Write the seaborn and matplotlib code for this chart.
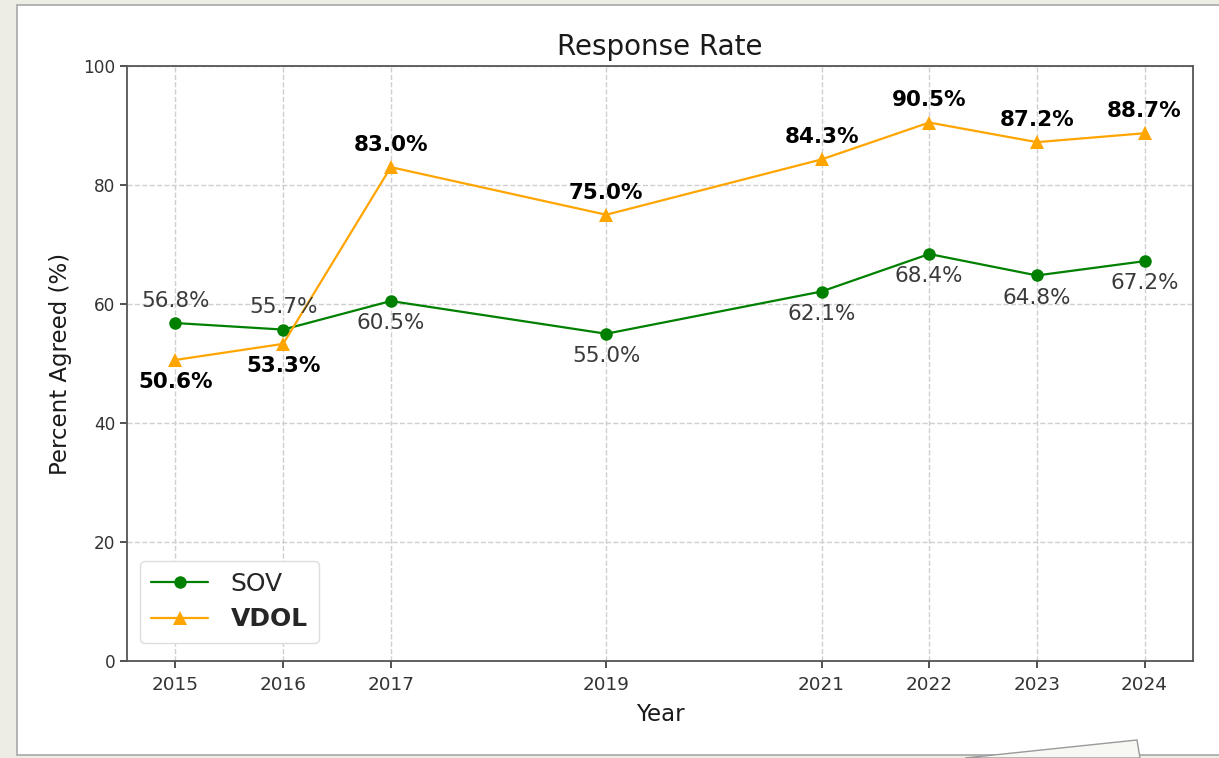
import pandas as pd
import matplotlib.pyplot as plt
import matplotlib.patches as mpatches
import seaborn as sns

# values
years = [2015, 2016, 2017, 2019, 2021, 2022, 2023, 2024]
sov = [56.8, 55.7, 60.5, 55.0, 62.1, 68.4, 64.8, 67.2]
vdol = [50.6, 53.3, 83.0, 75.0, 84.3, 90.5, 87.2, 88.7]
y_ticks = [0, 20, 40, 60, 80, 100]

df = pd.DataFrame({"Year": years, "SOV": sov, "VDOL": vdol})

sns.set_theme(style="ticks")
plt.rcParams["font.family"] = ["DejaVu Sans"]

fig = plt.figure(figsize=(12.19, 7.58), dpi=100, facecolor="#EDEDE3")

# white "slide" panel behind the chart
panel = mpatches.Rectangle((17 / 1219, 3 / 758), 1.0, 750 / 758, transform=fig.transFigure,
                           facecolor="white", edgecolor="#A8A8A8", linewidth=1.2, zorder=-2)
fig.patches.append(panel)
# bit of a paper sheet peeking in at the bottom right
sheet = mpatches.Polygon([(965 / 1219, 0), (1137 / 1219, 18 / 758), (1140 / 1219, 0)],
                         closed=True, transform=fig.transFigure, facecolor="#F7F7F4",
                         edgecolor="#9A9A9A", linewidth=1.0, zorder=-1)
fig.patches.append(sheet)

ax = fig.add_axes([127 / 1219, 97 / 758, 1066 / 1219, 595 / 758])
ax.set_facecolor("white")

sns.lineplot(data=df, x="Year", y="SOV", ax=ax, color="green", marker="o", markersize=9,
             linewidth=1.6, markeredgewidth=0, label="SOV")
sns.lineplot(data=df, x="Year", y="VDOL", ax=ax, color="orange", marker="^", markersize=9.5,
             linewidth=1.6, markeredgewidth=0, label="VDOL")

# value labels: early years flipped so they don't collide
for i, (x, s, v) in enumerate(zip(years, sov, vdol)):
    s_off = 16 if i < 2 else -16
    v_off = -16 if i < 2 else 16
    ax.annotate(f"{s:.1f}%", (x, s), xytext=(0, s_off), textcoords="offset points",
                ha="center", va="center", fontsize=15.5, color="#3a3a3a")
    ax.annotate(f"{v:.1f}%", (x, v), xytext=(0, v_off), textcoords="offset points",
                ha="center", va="center", fontsize=15.5, color="black", fontweight="bold")

ax.set_xlim(2014.55, 2024.45)
ax.set_ylim(0, 100)
ax.set_xticks(years)
ax.set_yticks(y_ticks)
ax.tick_params(axis="x", labelsize=13.2, colors="#333333", length=5, width=1.2, pad=6)
ax.tick_params(axis="y", labelsize=12.2, colors="#333333", length=5, width=1.2)
ax.grid(True, linestyle="--", color="#CFCFCF", linewidth=1.0)
for sp in ax.spines.values():
    sp.set_color("#555555")
    sp.set_linewidth(1.3)

ax.set_title("Response Rate", fontsize=20, color="#1a1a1a", pad=8)
ax.set_xlabel("Year", fontsize=16.5, color="#1a1a1a", labelpad=6)
ax.set_ylabel("Percent Agreed (%)", fontsize=16.5, color="#1a1a1a", labelpad=8)

leg = ax.legend(loc="lower left", fontsize=18, handlelength=2.3, handletextpad=0.9,
                borderpad=0.45, labelspacing=0.45, framealpha=1, edgecolor="#DDDDDD",
                bbox_to_anchor=(0.0, 0.01))
leg.get_texts()[1].set_fontweight("bold")

fig.savefig("out.png", dpi=100, facecolor=fig.get_facecolor())
